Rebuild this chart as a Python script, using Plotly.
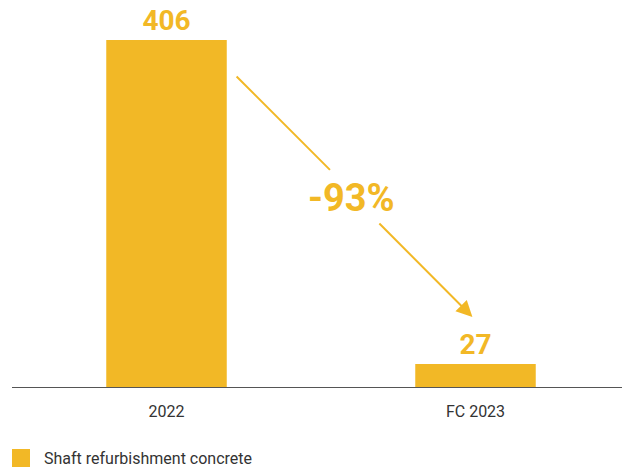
import plotly.graph_objects as go

categories = ["2022", "FC 2023"]
values = [406, 27]
series_name = "Shaft refurbishment concrete"
change_label = "-93%"

color = "#F2B826"

# layout (page has an 8px body margin)
T = 20           # top margin
BASE = 379       # y of axis line in figure px
H = BASE - T     # plot area height
YMAX = 420

fig = go.Figure()
fig.add_trace(go.Bar(
    x=categories, y=values, name=series_name,
    marker=dict(color=color, line=dict(width=0)),
    text=[str(v) for v in values], textposition="outside",
    textfont=dict(size=28, color=color, family="Roboto"),
    texttemplate="<b>%{text}</b>", cliponaxis=False,
    showlegend=False,
))

# arrow: two segments with gap for label
fig.add_annotation(x=0.529, y=254, ax=0.222, ay=365, xref="x", yref="y", axref="x", ayref="y",
                   text="", showarrow=True, arrowhead=0, arrowwidth=2, arrowcolor=color)
fig.add_annotation(x=0.99, y=82, ax=0.684, ay=193, xref="x", yref="y", axref="x", ayref="y",
                   text="", showarrow=True, arrowhead=2, arrowsize=1.6, arrowwidth=2, arrowcolor=color)
fig.add_annotation(x=0.6, y=221, xref="x", yref="y", text="<b>" + change_label + "</b>", showarrow=False,
                   font=dict(size=38, color=color, family="Roboto"))

# custom legend
fig.add_shape(type="rect", xref="paper", yref="paper", x0=0, x1=18 / 618, y0=-80 / H, y1=-62 / H,
              fillcolor=color, line=dict(width=0))
fig.add_annotation(xref="paper", yref="paper", x=30 / 618, y=-71 / H, xanchor="left", yanchor="middle",
                   text=series_name, showarrow=False, font=dict(size=16, color="#333333"))

fig.update_layout(
    width=630, height=470,
    margin=dict(l=4, r=8, t=T, b=470 - BASE, autoexpand=False),
    paper_bgcolor="white", plot_bgcolor="white",
    bargap=0.61,
    font=dict(family="Roboto", size=14, color="#333333"),
    showlegend=False,
    xaxis=dict(showline=True, linecolor="#555555", linewidth=1, showgrid=False,
               ticks="", tickfont=dict(size=16, color="#333333"), range=[-0.5, 1.5],
               ticklabelstandoff=10),
    yaxis=dict(visible=False, range=[0, YMAX], showgrid=False),
)

fig.write_html("out.html")
